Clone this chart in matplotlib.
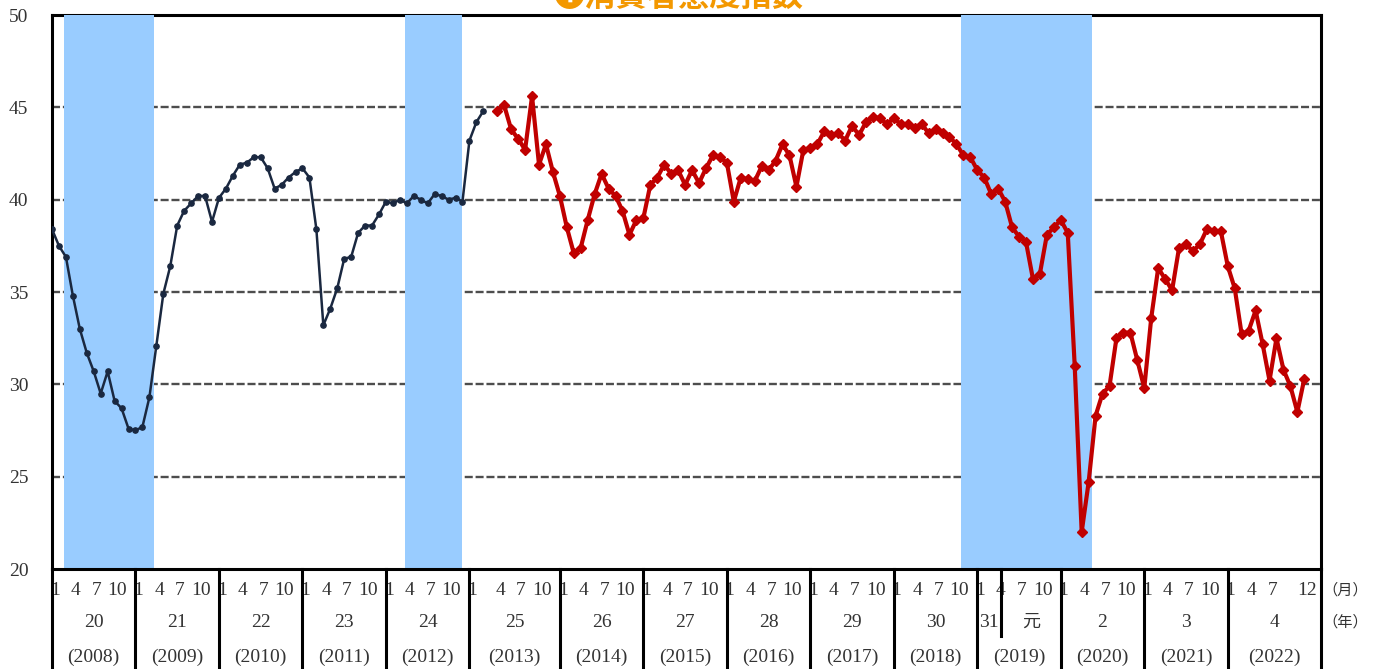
import matplotlib
matplotlib.use("Agg")
import matplotlib.pyplot as plt
import numpy as np

# ---------------- data ----------------
# Consumer confidence index, old survey method: 2008-01 .. 2013-03
old_method = [
    38.4, 37.5, 36.9, 34.8, 33.0, 31.7, 30.7, 29.5, 30.7, 29.1, 28.7, 27.6,   # 2008
    27.5, 27.7, 29.3, 32.1, 34.9, 36.4, 38.6, 39.4, 39.8, 40.2, 40.2, 38.8,   # 2009
    40.1, 40.6, 41.3, 41.9, 42.0, 42.3, 42.3, 41.7, 40.6, 40.8, 41.2, 41.5,   # 2010
    41.7, 41.2, 38.4, 33.2, 34.1, 35.2, 36.8, 36.9, 38.2, 38.6, 38.6, 39.2,   # 2011
    39.9, 39.8, 40.0, 39.8, 40.2, 40.0, 39.8, 40.3, 40.2, 40.0, 40.1, 39.9,   # 2012
    43.2, 44.2, 44.8,                                                         # 2013 Jan-Mar
]
# new survey method: 2013-04 .. 2022-12
new_method = [
    44.8, 45.1, 43.8, 43.3, 42.7, 45.6, 41.9, 43.0, 41.5,                     # 2013 Apr-Dec
    40.2, 38.5, 37.1, 37.4, 38.9, 40.3, 41.4, 40.6, 40.2, 39.4, 38.1, 38.9,   # 2014
    39.0, 40.8, 41.2, 41.9, 41.4, 41.6, 40.8, 41.6, 40.9, 41.7, 42.4, 42.3,   # 2015
    42.0, 39.9, 41.2, 41.1, 41.0, 41.8, 41.6, 42.1, 43.0, 42.4, 40.7, 42.7,   # 2016
    42.8, 43.0, 43.7, 43.5, 43.6, 43.2, 44.0, 43.5, 44.2, 44.5, 44.4, 44.1,   # 2017
    44.4, 44.1, 44.1, 43.9, 44.1, 43.6, 43.8, 43.6, 43.4, 43.0, 42.4, 42.3,   # 2018
    41.6, 41.2, 40.3, 40.6, 39.9, 38.5, 38.0, 37.7, 35.7, 36.0, 38.1, 38.5,   # 2019
    38.9, 38.2, 31.0, 22.0, 24.7, 28.3, 29.5, 29.9, 32.5, 32.8, 32.8, 31.3,   # 2020
    29.8, 33.6, 36.3, 35.7, 35.1, 37.4, 37.6, 37.2, 37.6, 38.4, 38.3, 38.3,   # 2021
    36.4, 35.2, 32.7, 32.9, 34.0, 32.2, 30.2, 32.5, 30.8, 29.9, 28.5, 30.3,   # 2022
]
# recession periods (in month slots, slot 0 = 2008-01)
recessions = [(1.77, 14.7), (50.7, 58.9), (130.6, 149.5)]

years_west = ["(2008)", "(2009)", "(2010)", "(2011)", "(2012)", "(2013)", "(2014)", "(2015)",
              "(2016)", "(2017)", "(2018)", "(2019)", "(2020)", "(2021)", "(2022)"]
years_era = ["20", "21", "22", "23", "24", "25", "26", "27", "28", "29", "30", None, "2", "3", "4"]
month_labels = ["1", "4", "7", "10"]
month_labels_last = ["1", "4", "7", "12"]
title = "❶消費者態度指数"

# ---------------- layout ----------------
W, H = 1376, 669
fig = plt.figure(figsize=(W / 100, H / 100), dpi=100)
ax = fig.add_axes([52 / W, 100 / H, 1269 / W, 554 / H])

n_old = len(old_method)
x_old = np.arange(n_old)
x_new = np.arange(len(new_method)) + n_old + 1   # blank slot at the method change
XMAX = 182.4

serif = ["Liberation Serif", "Noto Sans CJK JP"]
cjk = ["Noto Sans CJK JP", "DejaVu Sans"]

# gridlines
for yv in [25, 30, 35, 40, 45]:
    ax.axhline(yv, color="#4d4d4d", lw=1.7, dashes=(3.4, 1.2), zorder=0.8)
# top frame line (under the shading)
ax.axhline(50, color="black", lw=2.2, zorder=0.85, clip_on=False)

for s, e in recessions:
    ax.axvspan(s, e, color="#99CCFF", lw=0, zorder=1)

ax.plot(x_old, old_method, color="#1A2840", lw=1.8, marker="o", ms=3.8, zorder=3)
ax.plot(x_new, new_method, color="#C00000", lw=3.0, marker="D", ms=5.0, zorder=3)

ax.set_xlim(0, XMAX)
ax.set_ylim(20, 50)
ax.spines["top"].set_visible(False)
for sp in ["left", "right", "bottom"]:
    ax.spines[sp].set_linewidth(2.2)
    ax.spines[sp].set_color("black")
ax.set_xticks([])
ax.set_yticks(range(20, 51, 5))
ax.tick_params(axis="y", length=0, pad=17, labelsize=14, labelcolor="#333333")
for lab in ax.get_yticklabels():
    lab.set_family(serif)

# ---------------- table below axis ----------------
trans = ax.get_xaxis_transform()
year_starts = []
pos = 0
for yi in range(len(years_west)):
    year_starts.append(pos)
    pos += 12 + (1 if yi == 5 else 0)
bounds = year_starts + [XMAX]
TB = -(100 / 554)
for b in bounds:
    ax.plot([b, b], [0, TB], transform=trans, clip_on=False, color="black", lw=2.2, zorder=5)

y_mon, y_era, y_west = -0.038, -0.0957, -0.159
fs = 14
for yi in range(len(years_west)):
    s = bounds[yi]
    e = bounds[yi + 1]
    extra = 1 if yi == 5 else 0
    labs = month_labels_last if yi == len(years_west) - 1 else month_labels
    offs = [0, 3, 6, 11] if yi == len(years_west) - 1 else [0, 3, 6, 9]
    for lab, off in zip(labs, offs):
        xm = s + off + (extra if off > 0 else 0) + 0.4
        ax.text(xm, y_mon, lab, transform=trans, ha="center", va="center",
                fontsize=fs, family=serif, color="#333333")
    if years_era[yi] is not None:
        ax.text((s + e) / 2, y_era, years_era[yi], transform=trans, ha="center", va="center",
                fontsize=fs, family=serif, color="#333333")
    ax.text((s + e) / 2, y_west, years_west[yi], transform=trans, ha="center", va="center",
            fontsize=fs, family=serif, color="#333333")

# 2019: Heisei 31 / Reiwa 元
s19 = bounds[11]
e19 = bounds[12]
split = s19 + 3.4
ax.plot([split, split], [0, -(67 / 554)], transform=trans, clip_on=False, color="black", lw=2.2, zorder=5)
ax.text((s19 + split) / 2, y_era, "31", transform=trans, ha="center", va="center",
        fontsize=fs, family=serif, color="#333333")
ax.text((split + e19) / 2, y_era, "元", transform=trans, ha="center", va="center",
        fontsize=fs - 1, family=cjk, color="#333333")

ax.text(1.019, y_mon, "（月）", transform=ax.transAxes, ha="center", va="center",
        fontsize=11, family=cjk, color="#333333")
ax.text(1.019, y_era, "（年）", transform=ax.transAxes, ha="center", va="center",
        fontsize=11, family=cjk, color="#333333")

# title (partly cut at the top edge, as in the reference)
fig.text(678 / W, 1 - (-3 / H), title, ha="center", va="center", fontsize=22.5,
         fontweight="bold", family=cjk, color="#F39800")

fig.savefig("out.png", dpi=100)
